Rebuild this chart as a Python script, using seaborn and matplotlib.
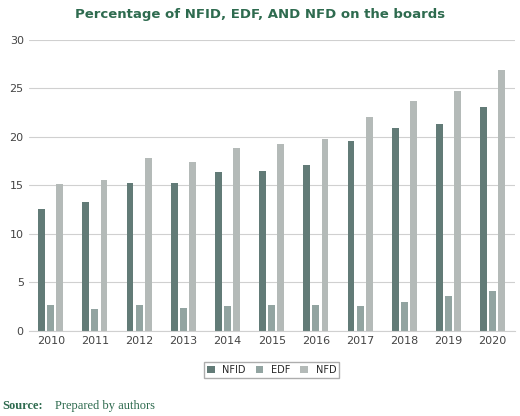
import matplotlib
matplotlib.use("Agg")
import matplotlib.pyplot as plt
import seaborn as sns
import pandas as pd

years = [str(y) for y in range(2010, 2021)]
nfid = [12.5, 13.3, 15.2, 15.2, 16.4, 16.5, 17.1, 19.5, 20.9, 21.3, 23.0]
edf = [2.7, 2.2, 2.7, 2.3, 2.5, 2.7, 2.7, 2.5, 3.0, 3.6, 4.1]
nfd = [15.1, 15.5, 17.8, 17.4, 18.8, 19.2, 19.7, 22.0, 23.7, 24.7, 26.9]

df = pd.DataFrame({"Year": years, "NFID": nfid, "EDF": edf, "NFD": nfd})
long = df.melt(id_vars="Year", var_name="Series", value_name="Value")

sns.set_style("white")
fig = plt.figure(figsize=(5.2, 4.16), dpi=100)
ax = fig.add_axes([0.055, 0.205, 0.935, 0.70])

palette = {"NFID": "#5e7f7a", "EDF": "#8fa7a3", "NFD": "#b3bbb9"}
sns.barplot(data=long, x="Year", y="Value", hue="Series", palette=palette,
            width=0.62, gap=0.25, ax=ax, edgecolor="none", legend=True)

ax.set_ylim(0, 30)
ax.set_yticks(range(0, 31, 5))
ax.yaxis.grid(True, color="#d0d0d0", linewidth=0.8)
ax.set_axisbelow(True)
ax.set_xlabel("")
ax.set_ylabel("")
for s in ["top", "right", "left"]:
    ax.spines[s].set_visible(False)
ax.spines["bottom"].set_color("#d0d0d0")
ax.tick_params(axis="both", labelsize=8, colors="#444444", length=0)

ax.legend(loc="upper center", bbox_to_anchor=(0.5, -0.09), ncol=3, fontsize=7,
          frameon=True, edgecolor="#999999", fancybox=False,
          handlelength=0.8, handleheight=0.8, columnspacing=1.0, borderpad=0.3)

fig.text(0.5, 0.965, "Percentage of NFID, EDF, AND NFD on the boards",
         ha="center", va="center", fontsize=9.5, fontweight="bold", color="#2e6b4f")
fig.text(0.005, 0.025, "Source:", fontsize=9, fontweight="bold",
         family="Liberation Serif", color="#2e6b4f", va="center")
fig.text(0.105, 0.025, "Prepared by authors", fontsize=9,
         family="Liberation Serif", color="#2e6b4f", va="center")

fig.savefig("out.png", dpi=100)
